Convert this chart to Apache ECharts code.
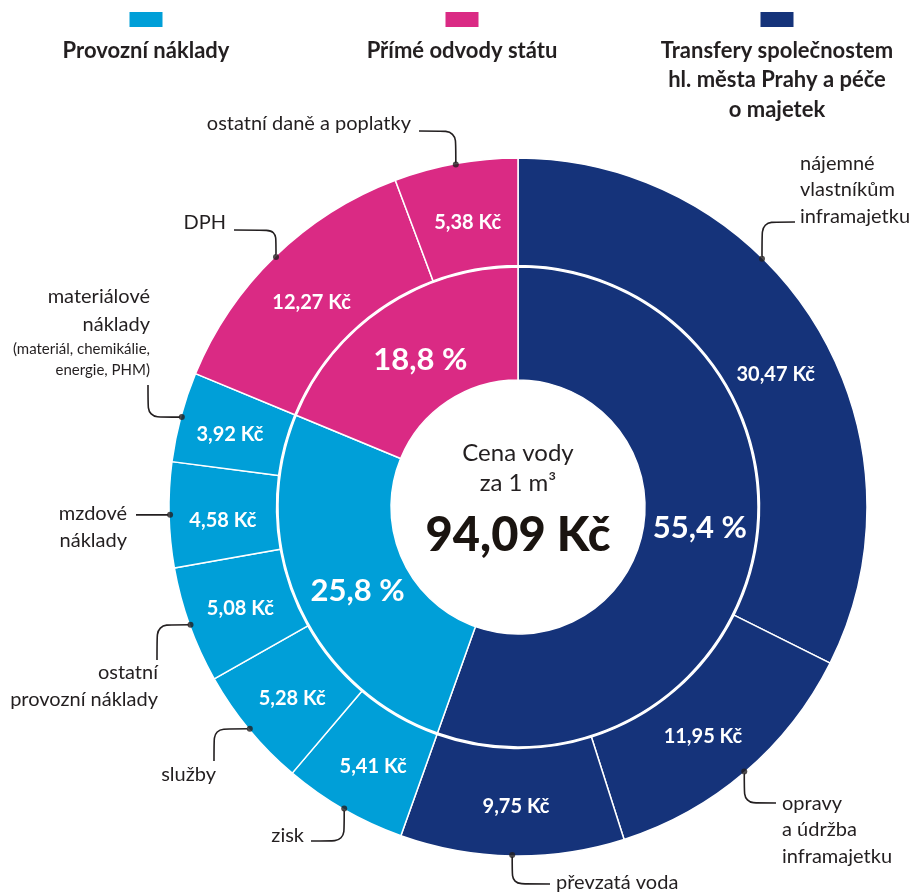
<!DOCTYPE html>
<html>
<head>
<meta charset="utf-8">
<script src="https://cdn.jsdelivr.net/npm/echarts@6/dist/echarts.min.js"></script>
<style>
  html, body { margin: 0; padding: 0; background: #fff; }
  #chart { width: 916px; height: 893px; }
</style>
</head>
<body>
<div id="chart"></div>
<script>
// položky ceny vody (Kč za 1 m3), po směru hodin od 12 h
const itemNames = ['nájemné vlastníkům inframajetku', 'opravy a údržba inframajetku', 'převzatá voda', 'zisk', 'služby',
    'ostatní provozní náklady', 'mzdové náklady', 'materiálové náklady', 'DPH', 'ostatní daně a poplatky'];
const itemValues = [30.47, 11.95, 9.75, 5.41, 5.28, 5.08, 4.58, 3.92, 12.27, 5.38];
const itemGroup = [0, 0, 0, 1, 1, 1, 1, 1, 2, 2];

// skupiny (vnitřní kruh)
const groupNames = ['Transfery společnostem\nhl. města Prahy a péče\no majetek', 'Provozní náklady', 'Přímé odvody státu'];
const groupColors = ['#15337a', '#009fd8', '#da2a84'];
const legendOrder = [1, 2, 0];

// texty popisků vně prstence
const calloutTexts = [
    'nájemné\nvlastníkům\ninframajetku',
    'opravy\na údržba\ninframajetku',
    'převzatá voda',
    'zisk',
    'služby',
    'ostatní\nprovozní náklady',
    'mzdové\nnáklady',
    '{a|materiálové}\n{a|náklady}\n{b|(materiál, chemikálie,}\n{b|energie, PHM)}',
    'DPH',
    'ostatní daně a poplatky'
];

// --- rozvržení ---
const CX = 518, CY = 507, R_OUT = 348;
const INK = '#231f20';
const FONT = 'Lato';

// kam vede popisek: text (x, y, align), zlom čáry (dir/turn/end), posun kotvy po obvodu
const callouts = [
    { x: 800, y: 190, align: 'left',  dir: 'v', turn: 222, end: 795, shift: -3.6 },
    { x: 782, y: 830, align: 'left',  dir: 'v', turn: 803, end: 776 },
    { x: 556, y: 883, align: 'left',  dir: 'v', turn: 884, end: 550 },
    { x: 304, y: 836, align: 'right', dir: 'v', turn: 841, end: 311 },
    { x: 216, y: 775, align: 'right', dir: 'h', turn: 214, end: 761 },
    { x: 158, y: 686, align: 'right', dir: 'h', turn: 157, end: 660 },
    { x: 127, y: 527, align: 'right', dir: 'h', turn: 136, end: null },
    { x: 150, y: 332, align: 'right', dir: 'h', turn: 148, end: 385 },
    { x: 226, y: 223, align: 'right', dir: 'v', turn: 230, end: 234 },
    { x: 411, y: 124, align: 'right', dir: 'v', turn: 131, end: 419 }
];
// ruční doladění polohy hodnot uvnitř výsečí [dx, dy]
const valueNudge = [[4, 24], [-9, 3], [3, 1], [4, 1], [4, 1], [3, 1], [3, 7], [0, 5], [1, 10], [3, 9]];
const shareNudge = [[-2, -11], [10, 8], [6, 8]];
const legendX = [146, 462, 777];

// --- odvozené hodnoty ---
const TOTAL = itemValues.reduce((s, v) => s + v, 0);
const groupValues = groupNames.map((_, g) =>
    itemValues.reduce((s, v, i) => s + (itemGroup[i] === g ? v : 0), 0));

const fmtKc = v => v.toFixed(2).replace('.', ',') + ' Kč';
const fmtPct = v => (v / TOTAL * 100).toFixed(1).replace('.', ',') + ' %';

const anchors = [];
let cum = 0;
itemValues.forEach((v, i) => {
    anchors.push(cum + v / 2 + (callouts[i].shift || 0));
    cum += v;
});

const outerData = itemNames.map((n, i) => ({
    name: n, value: itemValues[i],
    itemStyle: { color: groupColors[itemGroup[i]] }
}));
const innerData = groupNames.map((n, g) => ({
    name: n, value: groupValues[g],
    itemStyle: { color: groupColors[g] }
}));
const calloutData = itemNames.map((n, i) => ({ name: n, value: itemValues[i], text: calloutTexts[i] }));

function nudged(nudge) {
    return function (p) {
        const r = p.labelRect, d = nudge[p.dataIndex];
        return { x: r.x + r.width / 2 + d[0], y: r.y + r.height / 2 + d[1], align: 'center', verticalAlign: 'middle' };
    };
}

const graphic = [];
legendOrder.forEach((g, j) => {
    graphic.push({
        type: 'rect', shape: { x: legendX[j] - 16.5, y: 12, width: 33, height: 15 },
        style: { fill: groupColors[g] }, silent: true
    });
    graphic.push({
        type: 'text', x: legendX[j], y: 36, silent: true,
        style: {
            text: groupNames[g], fill: INK, fontFamily: FONT, fontWeight: 'bold', fontSize: 22,
            lineHeight: 29.5, align: 'center', verticalAlign: 'top', textAlign: 'center', textVerticalAlign: 'top'
        }
    });
});
[
    { text: 'Cena vody', y: 453, size: 24, weight: 'normal' },
    { text: 'za 1 m³', y: 483, size: 24, weight: 'normal' },
    { text: fmtKc(TOTAL), y: 536, size: 47, weight: 900 }
].forEach(t => {
    graphic.push({
        type: 'text', x: CX, y: t.y, silent: true,
        style: {
            text: t.text, fill: t.weight === 900 ? '#1a1410' : INK, fontFamily: FONT, fontWeight: t.weight,
            fontSize: t.size, align: 'center', verticalAlign: 'middle', textAlign: 'center', textVerticalAlign: 'middle'
        }
    });
});

const chart = echarts.init(document.getElementById('chart'), null, { renderer: 'canvas' });

chart.setOption({
    backgroundColor: '#fff',
    animation: false,
    graphic: graphic,
    polar: { center: [CX, CY], radius: R_OUT },
    angleAxis: { type: 'value', min: 0, max: TOTAL, startAngle: 90, clockwise: true, show: false },
    radiusAxis: { type: 'value', min: 0, max: 1, show: false },
    series: [
        {
            name: 'skupiny', type: 'pie', center: [CX, CY], radius: [127, 240],
            startAngle: 90, clockwise: true, silent: true, avoidLabelOverlap: false,
            itemStyle: { borderColor: '#fff', borderWidth: 1.5 },
            label: {
                show: true, position: 'inside', color: '#fff', fontFamily: FONT, fontWeight: 'bold', fontSize: 31,
                formatter: p => fmtPct(p.value)
            },
            labelLine: { show: false },
            labelLayout: nudged(shareNudge),
            data: innerData
        },
        {
            name: 'položky', type: 'pie', center: [CX, CY], radius: [241.5, R_OUT + 1],
            startAngle: 90, clockwise: true, silent: true, avoidLabelOverlap: false,
            itemStyle: { borderColor: '#fff', borderWidth: 1.5 },
            label: {
                show: true, position: 'inside', color: '#fff', fontFamily: FONT, fontWeight: 'bold', fontSize: 20,
                formatter: p => fmtKc(p.value)
            },
            labelLine: { show: false },
            labelLayout: nudged(valueNudge),
            data: outerData
        },
        {
            name: 'popisky', type: 'pie', center: [CX, CY], radius: [241.5, R_OUT],
            startAngle: 90, clockwise: true, silent: true, avoidLabelOverlap: false, z: 1,
            itemStyle: { color: 'rgba(0,0,0,0)', borderWidth: 0 },
            label: {
                show: true, position: 'outside', color: INK, fontFamily: FONT, fontSize: 20, lineHeight: 26.5,
                formatter: p => p.data.text,
                rich: {
                    a: { fontFamily: FONT, fontSize: 20, lineHeight: 28, color: INK },
                    b: { fontFamily: FONT, fontSize: 15, lineHeight: 21, color: INK }
                }
            },
            labelLine: { show: true, smooth: 0.2, lineStyle: { color: INK, width: 1.6 } },
            labelLayout: function (p) {
                const c = callouts[p.dataIndex];
                const a = anchors[p.dataIndex] / TOTAL * Math.PI * 2;
                const dot = [CX + R_OUT * Math.sin(a), CY - R_OUT * Math.cos(a)];
                let pts;
                if (c.dir === 'v') {
                    pts = [dot, [dot[0], c.turn], [c.end, c.turn]];
                } else if (c.end == null) {
                    pts = [dot, [c.turn, dot[1]]];
                } else {
                    pts = [dot, [c.turn, dot[1]], [c.turn, c.end]];
                }
                return { x: c.x, y: c.y, align: c.align, verticalAlign: 'middle', labelLinePoints: pts };
            },
            data: calloutData
        },
        {
            name: 'kotvy', type: 'scatter', coordinateSystem: 'polar', silent: true, z: 5,
            symbol: 'circle', symbolSize: 6, itemStyle: { color: INK },
            data: anchors.map(a => [1, a])
        }
    ]
});
</script>
</body>
</html>
